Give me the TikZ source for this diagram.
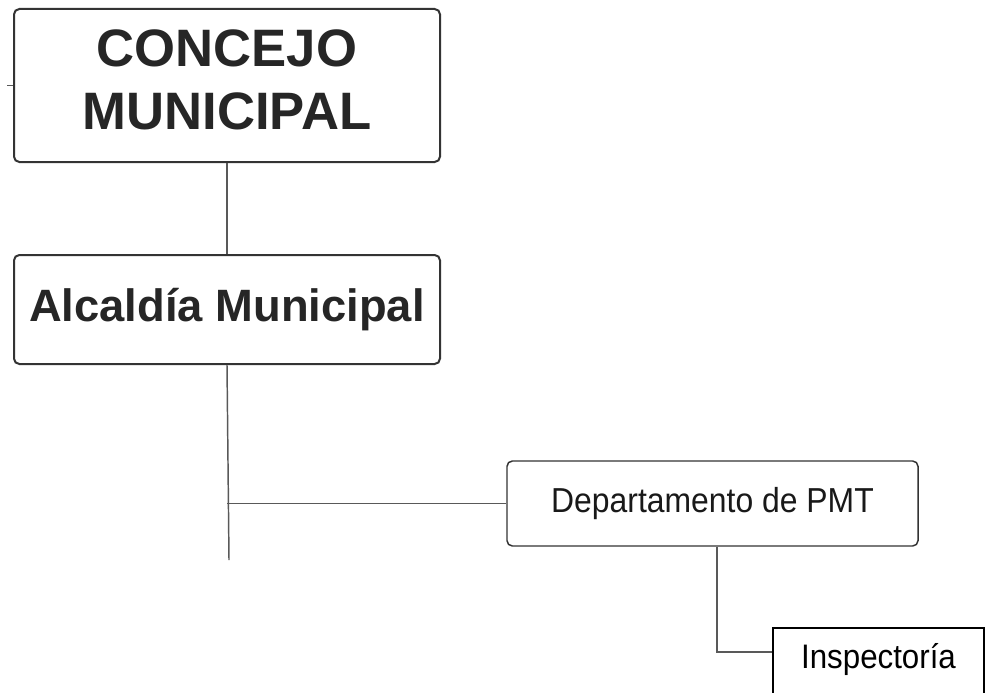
\documentclass[tikz,border=0pt]{standalone}
\usepackage{fontspec}
\setmainfont{Liberation Sans}
\newfontfamily\narrowsans[FakeStretch=0.92]{Liberation Sans}
\usetikzlibrary{positioning}

\begin{document}
\begin{tikzpicture}[
  x=0.75pt, y=-0.75pt,
  box/.style={draw=black!80, line width=1.5pt, rounded corners=4pt, align=center, inner sep=0pt, fill=white},
  plainbox/.style={draw=black, line width=1.5pt, align=center, inner xsep=0pt, inner ysep=0pt, fill=white},
  link/.style={draw=black!65, line width=1.1pt}
]

% --- Page frame ---------------------------------------------------------------
\useasboundingbox (0,0) rectangle (987,692);

% --- Upper levels -------------------------------------------------------------
\node[box, minimum width=319.5pt, minimum height=114.75pt, text depth=9pt, font=\bfseries\fontsize{39.5}{47}\selectfont, text=black!85] (concejo) at (227,85.5)
{CONCEJO\\MUNICIPAL};

\node[box, minimum width=319.5pt, minimum height=81.75pt, font=\bfseries\fontsize{34}{40}\selectfont, text=black!85] (alcaldia) at (227,309.5)
{Alcald\'ia Municipal};

% --- Lower levels -------------------------------------------------------------
\node[box, line width=1.1pt, minimum width=308.25pt, minimum height=63.75pt, font=\narrowsans\fontsize{26}{30}\selectfont, text=black!90] (depto) at (712.5,503.5)
{Departamento de PMT};

\node[plainbox, minimum width=158.25pt, text height=30pt, text depth=30pt, font=\narrowsans\fontsize{25.5}{30}\selectfont, anchor=north] (insp) at (878.5,627)
{Inspector\'ia};

% --- Connectors ---------------------------------------------------------------
\coordinate (trunk) at (229,560);
\draw[link] (concejo.south) -- (alcaldia.north);
\draw[link] (alcaldia.south) -- (trunk);
\draw[link] (alcaldia.south |- depto.west) -- (depto.west);
\draw[link] ([xshift=3.4pt]depto.south) |- ([yshift=12pt]insp.west);
\draw[link] (concejo.west) -- ++(-6,0);

\end{tikzpicture}
\end{document}
